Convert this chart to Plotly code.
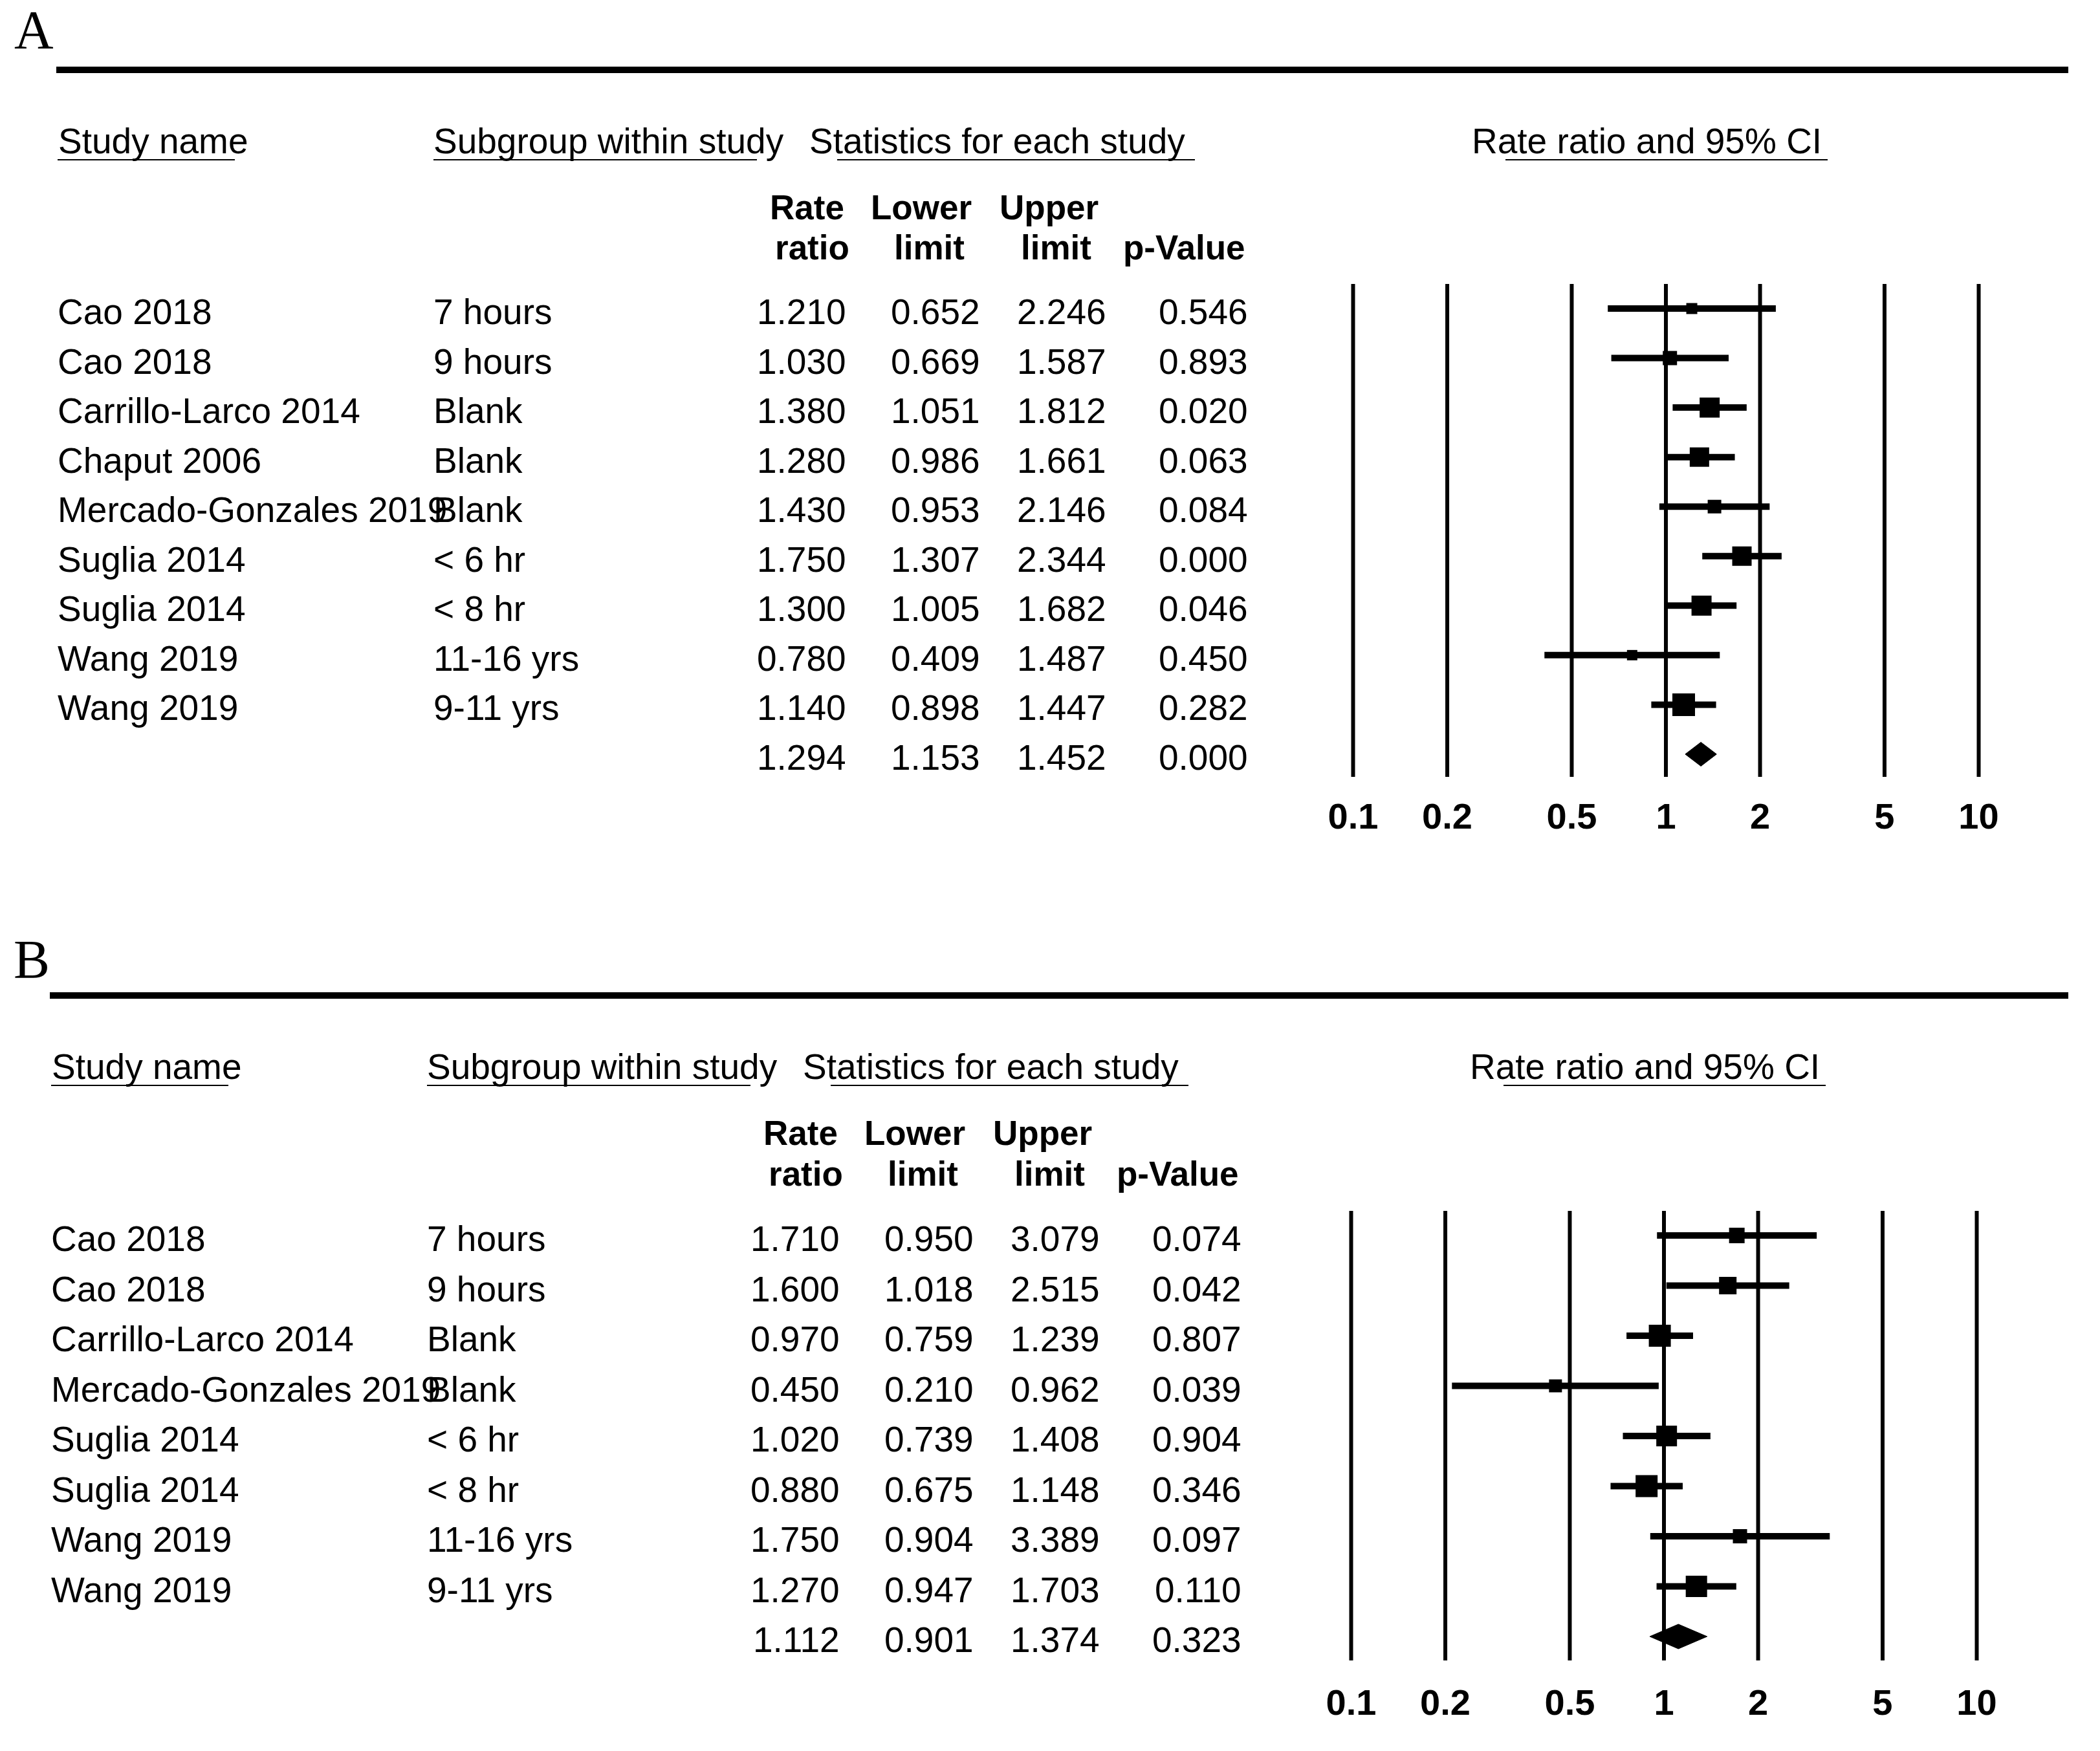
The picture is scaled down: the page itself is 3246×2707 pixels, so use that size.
import plotly.graph_objects as go

W, H = 3246, 2707

# ---------------- data : panel A ----------------
a_study = ["Cao 2018", "Cao 2018", "Carrillo-Larco 2014", "Chaput 2006",
           "Mercado-Gonzales 2019", "Suglia 2014", "Suglia 2014", "Wang 2019", "Wang 2019"]
a_subgroup = ["7 hours", "9 hours", "Blank", "Blank", "Blank", "< 6 hr", "< 8 hr",
              "11-16 yrs", "9-11 yrs"]
a_rr = [1.210, 1.030, 1.380, 1.280, 1.430, 1.750, 1.300, 0.780, 1.140]
a_lower = [0.652, 0.669, 1.051, 0.986, 0.953, 1.307, 1.005, 0.409, 0.898]
a_upper = [2.246, 1.587, 1.812, 1.661, 2.146, 2.344, 1.682, 1.487, 1.447]
a_p = [0.546, 0.893, 0.020, 0.063, 0.084, 0.000, 0.046, 0.450, 0.282]
a_sum_rr, a_sum_lower, a_sum_upper, a_sum_p = 1.294, 1.153, 1.452, 0.000

# ---------------- data : panel B ----------------
b_study = ["Cao 2018", "Cao 2018", "Carrillo-Larco 2014", "Mercado-Gonzales 2019",
           "Suglia 2014", "Suglia 2014", "Wang 2019", "Wang 2019"]
b_subgroup = ["7 hours", "9 hours", "Blank", "Blank", "< 6 hr", "< 8 hr", "11-16 yrs", "9-11 yrs"]
b_rr = [1.710, 1.600, 0.970, 0.450, 1.020, 0.880, 1.750, 1.270]
b_lower = [0.950, 1.018, 0.759, 0.210, 0.739, 0.675, 0.904, 0.947]
b_upper = [3.079, 2.515, 1.239, 0.962, 1.408, 1.148, 3.389, 1.703]
b_p = [0.074, 0.042, 0.807, 0.039, 0.904, 0.346, 0.097, 0.110]
b_sum_rr, b_sum_lower, b_sum_upper, b_sum_p = 1.112, 0.901, 1.374, 0.323

# axis ticks
tick_values = [0.1, 0.2, 0.5, 1, 2, 5, 10]
tick_labels = ["0.1", "0.2", "0.5", "1", "2", "5", "10"]

# ---------------- styles (marker sizes = study weights, px) ----------------
a_box_px = [17, 22, 31, 30, 21, 30, 31, 16, 35]
b_box_px = [24, 27, 34, 20, 32, 34, 22, 33]

SANS = "Liberation Sans, Arial, Helvetica, sans-serif"
SERIF = "Liberation Serif, Times New Roman, serif"
FS = 55
FS_BOLD = 53

fig = go.Figure()


def fmt(v):
    return f"{v:.3f}"


def draw_panel(cfg, letter, study, subgroup, rr, lo, hi, pv, srr, slo, shi, sp, boxes, xa, ya):
    row0, sp_px, dxt, dy = cfg["row0"], cfg["spacing"], cfg["dx_table"], cfg["dy"]
    n = len(rr)

    def row_of(py):
        return (py - row0) / sp_px

    yref = "y" if ya == "y" else "y2"

    # vertical reference lines
    gx, gy = [], []
    top, bot = row_of(cfg["grid_top"]), row_of(cfg["grid_bot"])
    for t in tick_values:
        gx += [t, t, None]
        gy += [top, bot, None]
    fig.add_trace(go.Scatter(x=gx, y=gy, mode="lines", line=dict(color="black", width=6),
                             xaxis=xa, yaxis=ya, hoverinfo="skip", showlegend=False))
    # CI lines
    cx, cy = [], []
    for i in range(n):
        cx += [lo[i], hi[i], None]
        cy += [i, i, None]
    fig.add_trace(go.Scatter(x=cx, y=cy, mode="lines", line=dict(color="black", width=10),
                             xaxis=xa, yaxis=ya, showlegend=False))
    # point estimates
    fig.add_trace(go.Scatter(x=rr, y=list(range(n)), mode="markers",
                             marker=dict(symbol="square", size=boxes, color="#000000",
                                         opacity=1, line=dict(width=0)),
                             xaxis=xa, yaxis=ya, showlegend=False))
    # summary diamond
    hh = cfg["diamond_half"] / sp_px
    fig.add_trace(go.Scatter(x=[slo, srr, shi, srr, slo], y=[n, n - hh, n, n + hh, n],
                             mode="lines", fill="toself", fillcolor="black",
                             line=dict(color="black", width=1),
                             xaxis=xa, yaxis=ya, showlegend=False))
    # tick labels
    fig.add_trace(go.Scatter(x=tick_values, y=[row_of(cfg["tick_y"])] * len(tick_values),
                             mode="text", text=tick_labels, textposition="middle center",
                             textfont=dict(family=SANS, size=56, color="black", weight=700),
                             xaxis=xa, yaxis=ya, showlegend=False))

    def ann(xpx, y, ref, text, anchor, size=FS, bold=False, family=SANS, yanchor="middle"):
        fig.add_annotation(x=xpx / W, xref="paper", y=y, yref=ref, text=text,
                           showarrow=False, xanchor=anchor, yanchor=yanchor,
                           borderpad=0, borderwidth=0,
                           font=dict(family=family, size=size, color="black",
                                     weight=700 if bold else 400))

    def py(v):
        return 1 - (v + dy) / H

    # panel letter
    ann(cfg["letter_x"], py(cfg["letter_top"]), "paper", letter, "left", size=84,
        family=SERIF, yanchor="top")
    # thick rule
    fig.add_shape(type="line", xref="paper", yref="paper",
                  x0=(87 + dxt) / W, x1=3197 / W, y0=py(108), y1=py(108),
                  line=dict(color="black", width=10))
    # section headers
    heads = [("Study name", 90, 89, 363),
             ("Subgroup within study", 670, 670, 1170),
             ("Statistics for each study", 1251, 1294, 1847)]
    for text, x0, u0, u1 in heads:
        ann(x0 + dxt, py(218), "paper", text, "left")
        fig.add_shape(type="line", xref="paper", yref="paper",
                      x0=(u0 + dxt) / W, x1=(u1 + dxt) / W, y0=py(247), y1=py(247),
                      line=dict(color="black", width=2))
    dxf = cfg["dx_forest"]
    ann(2275 + dxf, py(218), "paper", "Rate ratio and 95% CI", "left")
    fig.add_shape(type="line", xref="paper", yref="paper",
                  x0=(2327 + dxf) / W, x1=(2825 + dxf) / W, y0=py(247), y1=py(247),
                  line=dict(color="black", width=2))
    # bold column headers
    for text, x0, yy in [("Rate", 1190, 320), ("Lower", 1346, 320), ("Upper", 1545, 320),
                         ("ratio", 1198, 383), ("limit", 1382, 383), ("limit", 1578, 383),
                         ("p-Value", 1736, 383)]:
        ann(x0 + dxt, py(yy), "paper", text, "left", size=FS_BOLD, bold=True)

    # table rows
    cols = [1308, 1515, 1710, 1929]
    toff = cfg["text_off"] / sp_px
    for i in range(n):
        y = i + toff
        ann(89 + dxt, y, yref, study[i], "left")
        ann(670 + dxt, y, yref, subgroup[i], "left")
        for c, v in zip(cols, [rr[i], lo[i], hi[i], pv[i]]):
            ann(c + dxt, y, yref, fmt(v), "right")
    y = n + toff
    for c, v in zip(cols, [srr, slo, shi, sp]):
        ann(c + dxt, y, yref, fmt(v), "right")


cfgA = dict(row0=477, spacing=76.55, dx_table=0, dx_forest=0, dy=0,
            grid_top=439, grid_bot=1201, tick_y=1267, diamond_half=18.5,
            text_off=5, letter_x=22, letter_top=0, zero_x=2091.5)
cfgB = dict(row0=1910, spacing=77.5, dx_table=-10, dx_forest=-3, dy=1431,
            grid_top=1872, grid_bot=2567, tick_y=2637, diamond_half=19,
            text_off=5, letter_x=21, letter_top=6, zero_x=2088.5)

draw_panel(cfgA, "A", a_study, a_subgroup, a_rr, a_lower, a_upper, a_p,
           a_sum_rr, a_sum_lower, a_sum_upper, a_sum_p, a_box_px, "x", "y")
draw_panel(cfgB, "B", b_study, b_subgroup, b_rr, b_lower, b_upper, b_p,
           b_sum_rr, b_sum_lower, b_sum_upper, b_sum_p, b_box_px, "x2", "y2")

DEC = 483.5


def xrange(zero_x):
    return [-1 - zero_x / DEC, -1 + (W - zero_x) / DEC]


def yrange(cfg):
    return [(H - cfg["row0"]) / cfg["spacing"], -cfg["row0"] / cfg["spacing"]]


fig.update_layout(
    width=W, height=H, autosize=False,
    margin=dict(l=0, r=0, t=0, b=0, pad=0),
    paper_bgcolor="white", plot_bgcolor="rgba(0,0,0,0)",
    showlegend=False,
    xaxis=dict(type="log", range=xrange(cfgA["zero_x"]), domain=[0, 1], visible=False,
               anchor="y", fixedrange=True),
    yaxis=dict(range=yrange(cfgA), domain=[0, 1], visible=False, anchor="x", fixedrange=True),
    xaxis2=dict(type="log", range=xrange(cfgB["zero_x"]), visible=False, overlaying="x",
                anchor="y2", fixedrange=True),
    yaxis2=dict(range=yrange(cfgB), visible=False, overlaying="y", anchor="x2",
                fixedrange=True),
)

fig.write_html("out.html", config={"displayModeBar": False},
               post_script="document.body.style.margin='0';document.body.style.overflow='hidden';")
